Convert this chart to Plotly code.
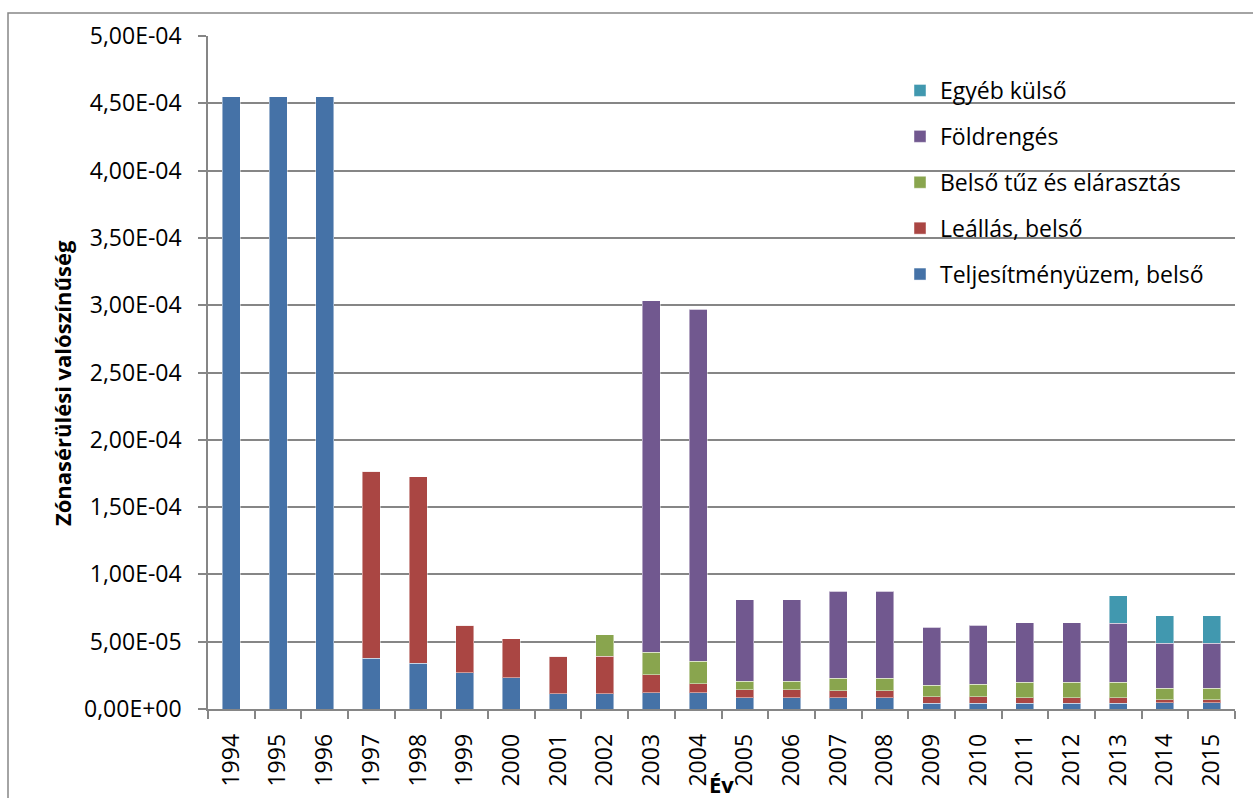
import plotly.graph_objects as go

years = [str(y) for y in range(1994, 2016)]

# component values (stacked)
teljesitmeny = [4.55e-4, 4.55e-4, 4.55e-4, 3.77e-5, 3.40e-5, 2.71e-5, 2.34e-5, 1.14e-5, 1.14e-5, 1.22e-5, 1.22e-5,
                8.5e-6, 8.5e-6, 8.5e-6, 8.5e-6, 4.2e-6, 4.2e-6, 4.2e-6, 4.2e-6, 4.2e-6, 4.7e-6, 4.7e-6]
leallas = [0, 0, 0, 1.389e-4, 1.384e-4, 3.51e-5, 2.88e-5, 2.79e-5, 2.79e-5, 1.32e-5, 6.5e-6,
           5.7e-6, 5.7e-6, 4.9e-6, 4.9e-6, 5.0e-6, 4.8e-6, 4.3e-6, 4.3e-6, 4.3e-6, 2.3e-6, 2.3e-6]
tuz = [0, 0, 0, 0, 0, 0, 0, 0, 1.59e-5, 1.66e-5, 1.69e-5,
       6.4e-6, 6.4e-6, 9.5e-6, 9.5e-6, 8.5e-6, 9.4e-6, 1.14e-5, 1.14e-5, 1.14e-5, 8.4e-6, 8.4e-6]
foldrenges = [0, 0, 0, 0, 0, 0, 0, 0, 0, 2.614e-4, 2.614e-4,
              6.05e-5, 6.05e-5, 6.47e-5, 6.47e-5, 4.32e-5, 4.40e-5, 4.40e-5, 4.40e-5, 4.38e-5, 3.34e-5, 3.34e-5]
egyeb = [0, 0, 0, 0, 0, 0, 0, 0, 0, 0, 0,
         0, 0, 0, 0, 0, 0, 0, 0, 2.06e-5, 2.04e-5, 2.04e-5]

series = [
    ("Teljesítményüzem, belső", teljesitmeny, "#4572A7"),
    ("Leállás, belső", leallas, "#AA4643"),
    ("Belső tűz és elárasztás", tuz, "#89A54E"),
    ("Földrengés", foldrenges, "#71588F"),
    ("Egyéb külső", egyeb, "#4198AF"),
]

ytick_vals = [0, 5e-5, 1e-4, 1.5e-4, 2e-4, 2.5e-4, 3e-4, 3.5e-4, 4e-4, 4.5e-4, 5e-4]
ytick_text = ["0,00E+00", "5,00E-05", "1,00E-04", "1,50E-04", "2,00E-04", "2,50E-04",
              "3,00E-04", "3,50E-04", "4,00E-04", "4,50E-04", "5,00E-04"]

FONT = "Open Sans"
W, H = 1253, 798
L, R, T, B = 208, 18, 36, 89
pw, ph = W - L - R, H - T - B

fig = go.Figure()
n = len(series)
for i, (name, vals, col) in enumerate(series):
    fig.add_trace(go.Bar(
        x=years, y=vals, name=name, legendgroup=f"g{i}", legendrank=n - i,
        marker=dict(color=col, line=dict(color="rgba(255,255,255,0.45)", width=1)),
    ))

def px_x(p):
    return (p - L) / pw

def px_y(p):
    return (H - B - p) / ph

fig.update_layout(
    width=W, height=H,
    margin=dict(l=L, r=R, t=T, b=B, pad=0),
    barmode="stack", bargap=0.615,
    plot_bgcolor="white", paper_bgcolor="white",
    font=dict(family=FONT, size=21, color="black"),
    showlegend=True,
    legend=dict(
        x=px_x(900), y=px_y(69), xanchor="left", yanchor="top",
        traceorder="grouped", tracegroupgap=13,
        font=dict(family=FONT, size=23, color="black"),
        bgcolor="rgba(0,0,0,0)", itemwidth=30,
    ),
    xaxis=dict(
        type="category", tickson="boundaries", ticks="outside", ticklen=8,
        tickcolor="#868686", tickwidth=1.5, showline=True, linecolor="#868686", linewidth=1.5,
        tickangle=-90, tickfont=dict(family=FONT, size=23), showgrid=False,
        range=[-0.5, 21.5], ticklabelstandoff=14,
    ),
    yaxis=dict(
        range=[0, 5e-4], tickvals=ytick_vals, ticktext=ytick_text,
        ticks="outside", ticklen=8, tickcolor="#868686", tickwidth=1.5,
        showline=True, linecolor="#868686", linewidth=1.5,
        showgrid=True, gridcolor="#868686", gridwidth=1.5,
        tickfont=dict(family=FONT, size=23), zeroline=False, ticklabelstandoff=12,
    ),
    annotations=[
        dict(text="<b>Év</b>", xref="paper", yref="paper", x=0.5, y=px_y(784),
             showarrow=False, font=dict(family=FONT, size=22), xanchor="center", yanchor="middle"),
        dict(text="<b>Zónasérülési valószínűség</b>", xref="paper", yref="paper",
             x=px_x(62), y=px_y(383), textangle=-90, showarrow=False,
             font=dict(family=FONT, size=22), xanchor="center", yanchor="middle"),
    ],
    shapes=[
        dict(type="rect", xref="paper", yref="paper", x0=px_x(8), y0=px_y(820), x1=px_x(1275), y1=px_y(13),
             line=dict(color="#868686", width=1.5), fillcolor="rgba(0,0,0,0)", layer="below"),
    ],
)

fig.write_html("out.html")
